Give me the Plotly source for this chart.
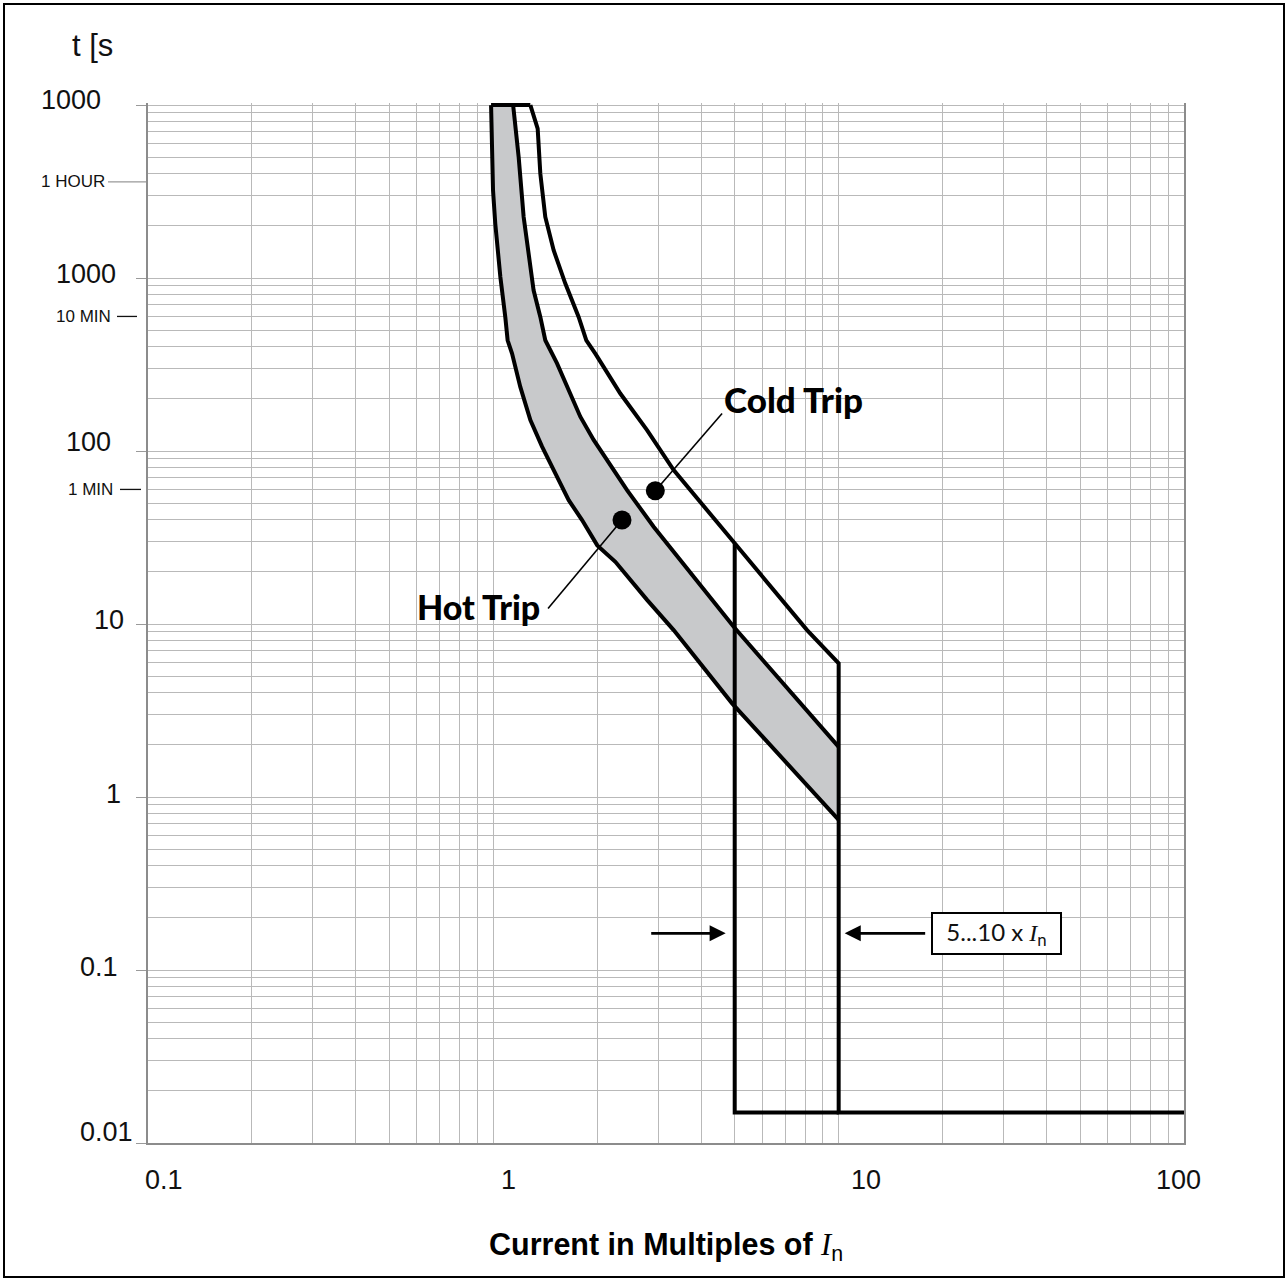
import numpy as np
import plotly.graph_objects as go

# ---------------- data ----------------
# x: current in multiples of In, t: trip time in seconds
hot_lower_x = [0.985, 0.998, 1.013, 1.048, 1.083, 1.100, 1.133, 1.197, 1.280, 1.384,
               1.512, 1.653, 1.807, 2.00, 2.256, 2.787, 3.328, 4.913, 10.0]
hot_lower_t = [10000, 3216, 2064, 1015, 596, 437, 366, 235, 151, 106,
               74.3, 52.0, 39.9, 28.5, 22.9, 13.8, 9.23, 3.48, 0.738]

hot_upper_x = [1.141, 1.184, 1.224, 1.265, 1.308, 1.368, 1.414, 1.529, 1.671, 1.786,
               1.952, 2.135, 2.439, 2.912, 3.479, 4.966, 10.0]
hot_upper_t = [10000, 5010, 2254, 1324, 850, 596, 437, 321, 215, 158,
               116, 88.6, 59.5, 36.5, 23.4, 9.64, 1.95]

cold_x = [1.280, 1.344, 1.368, 1.414, 1.495, 1.616, 1.766, 1.859, 1.974, 2.332,
          2.787, 3.328, 5.0, 8.10, 10.0]
cold_t = [10000, 7310, 4015, 2254, 1448, 929, 596, 437, 366, 215,
          132, 77.6, 29.3, 9.23, 5.93]

magnetic_x = [5, 10]        # 5...10 x In instantaneous band
magnetic_t = 0.015          # instantaneous trip time
x_end = 100
t_top = 10000

cold_dot = [2.945, 58.9]
cold_leader_end = [4.596, 165]
hot_dot = [2.358, 39.9]
hot_leader_end = [1.440, 12.3]
label_t = 0.163

y_tick_vals = [10000, 1000, 100, 10, 1, 0.1, 0.01]
y_tick_text = ["1000", "1000", "100", "10", "1", "0.1", "0.01"]
x_tick_vals = [0.1, 1, 10, 100]
x_tick_text = ["0.1", "1", "10", "100"]
time_marks = [3600, 600, 60]
time_text = ["1 HOUR", "10 MIN", "1 MIN"]

# ---------------- layout geometry ----------------
W, H = 1288, 1281
ML, MR, MT, MB = 148, 104, 103, 138
PW, PH = W - ML - MR, H - MT - MB
YR = [-2, 4.012]


def pxp(x):  # pixel -> paper x
    return (x - ML) / PW


def pyp(y):  # pixel -> paper y
    return (H - MB - y) / PH


LINE = dict(color="black", width=4)
fig = go.Figure()

# grey hot band
fig.add_trace(go.Scatter(
    x=hot_lower_x + hot_upper_x[::-1], y=hot_lower_t + hot_upper_t[::-1],
    fill="toself", fillcolor="#c8c9cb", mode="lines", line=dict(width=0),
    hoverinfo="skip", showlegend=False))

# curves
fig.add_trace(go.Scatter(x=hot_lower_x, y=hot_lower_t, mode="lines", line=LINE, showlegend=False))
fig.add_trace(go.Scatter(x=hot_upper_x, y=hot_upper_t, mode="lines", line=LINE, showlegend=False))
fig.add_trace(go.Scatter(
    x=cold_x + [magnetic_x[1], x_end], y=cold_t + [magnetic_t, magnetic_t],
    mode="lines", line=LINE, showlegend=False))
# top segment
fig.add_trace(go.Scatter(x=[hot_lower_x[0], cold_x[0]], y=[t_top, t_top],
                         mode="lines", line=LINE, showlegend=False))
# instantaneous lower limit
fig.add_trace(go.Scatter(
    x=[magnetic_x[0], magnetic_x[0], magnetic_x[1]],
    y=[cold_t[cold_x.index(magnetic_x[0])], magnetic_t, magnetic_t],
    mode="lines", line=LINE, showlegend=False))

# leaders and dots
for dot, end in [(cold_dot, cold_leader_end), (hot_dot, hot_leader_end)]:
    fig.add_trace(go.Scatter(x=[dot[0], end[0]], y=[dot[1], end[1]], mode="lines",
                             line=dict(color="black", width=1.6), showlegend=False))
    fig.add_trace(go.Scatter(x=[dot[0]], y=[dot[1]], mode="markers",
                             marker=dict(color="black", size=19), showlegend=False))

ann = []
LAB = "Lato"
ann.append(dict(x=np.log10(cold_leader_end[0]), y=np.log10(cold_leader_end[1]),
                xref="x", yref="y", text="Cold Trip", showarrow=False,
                xanchor="left", yanchor="middle", xshift=0, yshift=14,
                font=dict(family=LAB, size=35, color="black", weight=900)))
ann.append(dict(x=np.log10(hot_leader_end[0]), y=np.log10(hot_leader_end[1]),
                xref="x", yref="y", text="Hot Trip", showarrow=False,
                xanchor="right", yanchor="middle", xshift=-6, yshift=2,
                font=dict(family=LAB, size=34, color="black", weight=900)))

# arrows marking 5...10 x In
ann.append(dict(x=np.log10(magnetic_x[0]), y=np.log10(label_t), xref="x", yref="y",
                ax=-76, ay=0, xshift=-9, showarrow=True, arrowhead=2, arrowsize=1.15,
                arrowwidth=2.8, arrowcolor="black", text=""))
ann.append(dict(x=np.log10(magnetic_x[1]), y=np.log10(label_t), xref="x", yref="y",
                ax=82, ay=0, xshift=6, showarrow=True, arrowhead=2, arrowsize=1.15,
                arrowwidth=2.8, arrowcolor="black", text=""))
ann.append(dict(x=pxp(996.5), y=np.log10(label_t), xref="paper", yref="y",
                text="5...10 x <span style='font-family:Liberation Serif'><i>I</i></span><sub>n</sub>",
                showarrow=False, xanchor="center", yanchor="middle",
                bordercolor="black", borderwidth=2, borderpad=2, bgcolor="white",
                width=123, height=35, font=dict(family=LAB, size=24, color="#111")))

# y tick labels (irregular placement as in the reference)
y_lab_right = [103, 118, 113, 126, 123, 120, 135]
y_lab_shift = [5, 4, 9, 4, 3, 3, 11]
for v, t, r, s in zip(y_tick_vals, y_tick_text, y_lab_right, y_lab_shift):
    ann.append(dict(x=pxp(r), y=np.log10(v), xref="paper", yref="y", text=t,
                    showarrow=False, xanchor="right", yanchor="middle", yshift=s,
                    font=dict(family="Liberation Sans", size=27, color="#111")))

# time labels
t_lab_right = [107, 113, 115]
for v, t, r in zip(time_marks, time_text, t_lab_right):
    ann.append(dict(x=pxp(r), y=np.log10(v), xref="paper", yref="y", text=t,
                    showarrow=False, xanchor="right", yanchor="middle",
                    font=dict(family="Liberation Sans", size=17, color="#111")))

# x tick labels
x_lab_center = [164, 508, 866, 1178]
for v, t, c in zip(x_tick_vals, x_tick_text, x_lab_center):
    ann.append(dict(x=pxp(c), y=pyp(1180), xref="paper", yref="paper", text=t,
                    showarrow=False, xanchor="center", yanchor="middle",
                    font=dict(family="Liberation Sans", size=27, color="#111")))

# axis titles
ann.append(dict(x=pxp(70), y=pyp(46), xref="paper", yref="paper", text="t [s",
                showarrow=False, xanchor="left", yanchor="middle",
                font=dict(family="Liberation Sans", size=31, color="#111")))
ann.append(dict(x=pxp(666), y=pyp(1246), xref="paper", yref="paper",
                text="<b>Current in Multiples of </b><span style='font-family:Liberation Serif'><i>I</i></span><sub>n</sub>",
                showarrow=False, xanchor="center", yanchor="middle",
                font=dict(family="Liberation Sans", size=30.5, color="black")))

shapes = []
# small dashes next to the time labels
dash_spans = [(108, 146, "#999999"), (117, 137, "#111111"), (120, 141, "#111111")]
for v, (a, b, c) in zip(time_marks, dash_spans):
    shapes.append(dict(type="line", xref="paper", yref="y", x0=pxp(a), x1=pxp(b),
                       y0=v, y1=v, line=dict(color=c, width=1.3)))
# outer frame
shapes.append(dict(type="rect", xref="paper", yref="paper", x0=pxp(4), x1=pxp(1284),
                   y0=pyp(1277), y1=pyp(4), line=dict(color="black", width=2)))

minor_vals = [m * 10.0 ** e for e in range(-2, 5) for m in range(2, 10)]
grid = "#b9b9b9"

fig.update_layout(
    width=W, height=H, margin=dict(l=ML, r=MR, t=MT, b=MB),
    paper_bgcolor="white", plot_bgcolor="white",
    showlegend=False, annotations=ann, shapes=shapes,
    xaxis=dict(type="log", range=[-1, 2], tickvals=x_tick_vals, showticklabels=False,
               ticks="", showgrid=True, gridcolor=grid, gridwidth=1,
               showline=True, linecolor="#8c8c8c", linewidth=1.5, zeroline=False,
               minor=dict(tickmode="array", tickvals=minor_vals, showgrid=True,
                          gridcolor=grid, gridwidth=1, ticks="")),
    yaxis=dict(type="log", range=YR, tickvals=y_tick_vals, showticklabels=False,
               ticks="outside", ticklen=10, tickcolor="#9a9a9a", tickwidth=1,
               showgrid=True, gridcolor=grid, gridwidth=1,
               showline=True, linecolor="#8c8c8c", linewidth=1.5, mirror=True, zeroline=False,
               minor=dict(tickmode="array", tickvals=minor_vals, showgrid=True,
                          gridcolor=grid, gridwidth=1, ticks="")),
)

fig.write_html("out.html", config={"displayModeBar": False},
               post_script="document.body.style.margin='0px';document.body.style.overflow='hidden';")
